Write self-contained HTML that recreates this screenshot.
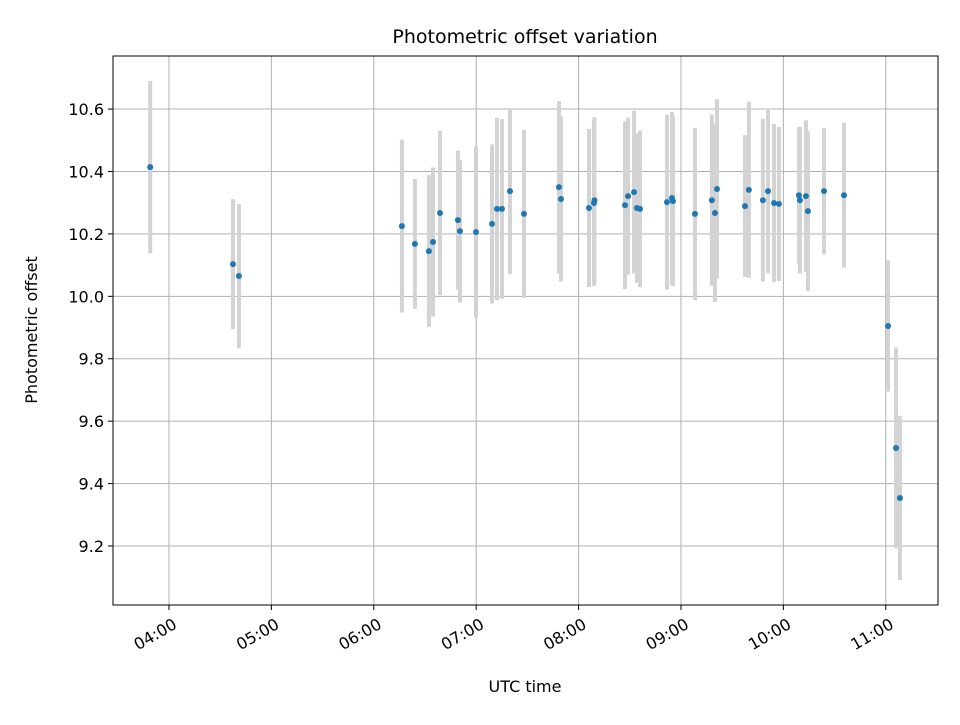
<!DOCTYPE html>
<html><head><meta charset="utf-8"><style>
body{margin:0;background:#fff}
svg text{font-family:"DejaVu Sans","Liberation Sans",sans-serif;fill:#000}
</style></head><body>
<svg id="chart" width="960" height="720" xmlns="http://www.w3.org/2000/svg">
<rect width="960" height="720" fill="#fff"/>
<g id="grid"></g>
<g id="bars"></g>
<g id="pts"></g>
<rect x="113" y="56" width="825" height="549" fill="none" stroke="#000" stroke-width="1"/>
<g id="axes"></g>
<text x="525" y="43" text-anchor="middle" font-size="19">Photometric offset variation</text>
<text x="525" y="692" text-anchor="middle" font-size="16">UTC time</text>
<text transform="translate(37,330) rotate(-90)" text-anchor="middle" font-size="16">Photometric offset</text>
</svg>
<script>
// times in minutes since 00:00 UTC
const times=[229,277.5,281,376.5,384.1,392.3,394.7,398.8,409.3,410.5,419.9,429.3,432.2,435.1,439.8,448,468.5,469.7,486.1,489,489.3,507.2,509,512.5,514.2,516,531.8,534.7,535.3,548.2,558.1,559.9,561.1,577.5,579.8,588,591,594.5,597.4,609.1,609.7,613.2,614.4,623.8,635.5,661.3,666,668.3];
const values=[10.414,10.103,10.065,10.225,10.168,10.145,10.174,10.267,10.244,10.209,10.206,10.232,10.280,10.280,10.337,10.264,10.350,10.312,10.283,10.299,10.308,10.292,10.321,10.334,10.283,10.280,10.302,10.315,10.305,10.264,10.308,10.267,10.344,10.289,10.341,10.308,10.337,10.299,10.296,10.324,10.308,10.321,10.273,10.337,10.324,9.905,9.514,9.354];
const errors=[0.276,0.208,0.231,0.277,0.208,0.243,0.239,0.263,0.223,0.229,0.274,0.255,0.292,0.288,0.266,0.269,0.276,0.264,0.253,0.266,0.266,0.269,0.251,0.261,0.240,0.251,0.280,0.276,0.272,0.276,0.274,0.285,0.287,0.227,0.282,0.261,0.263,0.253,0.247,0.219,0.235,0.243,0.256,0.202,0.232,0.210,0.322,0.263];
const xTicks=[240,300,360,420,480,540,600,660];
const xTickLabels=["04:00","05:00","06:00","07:00","08:00","09:00","10:00","11:00"];
const yTicks=[9.2,9.4,9.6,9.8,10.0,10.2,10.4,10.6];
const yTickLabels=["9.2","9.4","9.6","9.8","10.0","10.2","10.4","10.6"];

const L=113,R=938,T=56,B=605;
const xMin=207.2,xMax=690.6,yMin=9.011,yMax=10.770;
const X=t=>L+(t-xMin)/(xMax-xMin)*(R-L);
const Y=v=>B-(v-yMin)/(yMax-yMin)*(B-T);
const NS="http://www.w3.org/2000/svg";
function mk(tag,attrs,parent){const e=document.createElementNS(NS,tag);for(const k in attrs)e.setAttribute(k,attrs[k]);parent.appendChild(e);return e;}
const grid=document.getElementById('grid'),axes=document.getElementById('axes'),bars=document.getElementById('bars'),pts=document.getElementById('pts');
xTicks.forEach((t,i)=>{
  const x=X(t);
  const g=mk('line',{x1:x,x2:x,y1:T,y2:B,stroke:'#b0b0b0','stroke-width':1},grid);
  
  
  const tk=mk('line',{x1:x,x2:x,y1:B,y2:B+5,stroke:'#000'},axes);
  
  
  const ax=x+3, ay=B+12;
  const tx=mk('text',{x:ax,y:ay,'text-anchor':'end','dominant-baseline':'hanging','font-size':16,transform:`rotate(-30 ${ax} ${ay})`},axes);
  tx.textContent=xTickLabels[i];
  
  
});
yTicks.forEach((v,i)=>{
  const y=Y(v);
  const g=mk('line',{x1:L,x2:R,y1:y,y2:y,stroke:'#b0b0b0','stroke-width':1},grid);
  
  
  const tk=mk('line',{x1:L-5,x2:L,y1:y,y2:y,stroke:'#000'},axes);
  
  
  const tx=mk('text',{x:L-9,y:y+6,'text-anchor':'end','font-size':16},axes);
  tx.textContent=yTickLabels[i];
  
  
});
times.forEach((t,i)=>{
  const x=X(t);
  const b=mk('line',{x1:x,x2:x,y1:Y(values[i]+errors[i]),y2:Y(values[i]-errors[i]),stroke:'#d3d3d3','stroke-width':4},bars);
  
  
  const c=mk('circle',{cx:x,cy:Y(values[i]),r:3,fill:'#1f77b4'},pts);
  
  
});
</script>
</body></html>
